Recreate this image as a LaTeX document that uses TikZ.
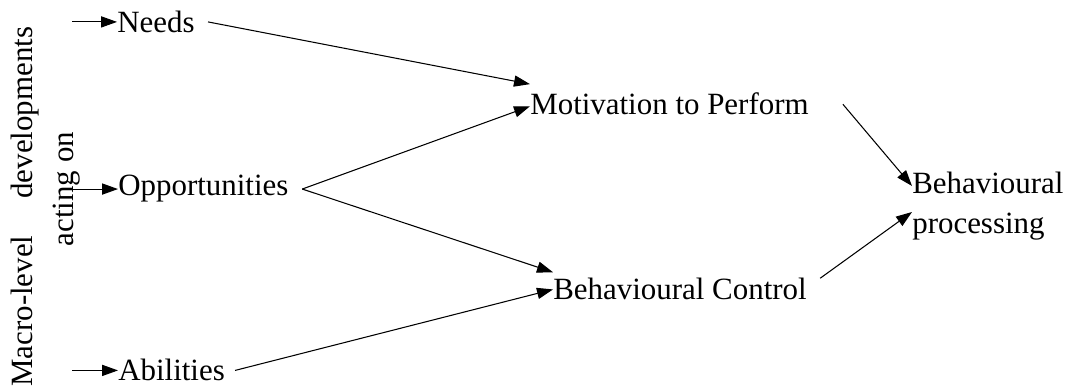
\documentclass[tikz,border=0pt]{standalone}
\usepackage{fontspec}
\setmainfont{Liberation Serif}
\usetikzlibrary{arrows.meta, positioning}

\begin{document}
\begin{tikzpicture}[
    factor/.style={inner sep=0pt, anchor=base west, font=\fontsize{22}{28}\selectfont},
    sidetext/.style={inner sep=0pt, anchor=base west, rotate=90, font=\fontsize{22}{26}\selectfont},
    link/.style={line width=0.75pt, -{Triangle[length=0.4cm, width=0.28cm]}}
]
    \useasboundingbox (0,0) rectangle (26.8,9.675);

    % Side caption
    \node (macro) [sidetext] at (0.8,0) {\makebox[9.0cm][s]{Macro-level developments}};
    \node (acting) [sidetext] at (1.825,3.51) {acting on};

    % Inputs
    \node (needs) [factor] at (2.925,8.8625) {Needs};
    \node (opp) [factor] at (2.95,4.775) {Opportunities};
    \node (abil) [factor] at (2.95,0.15) {Abilities};

    % Middle and outcome
    \node (motiv) [factor] at (13.25,6.8) {Motivation to Perform};
    \node (control) [factor] at (13.825,2.175) {Behavioural Control};
    \node (proc) [factor, anchor=north west, align=left] at (22.8,5.375) {Behavioural\\processing};

    % Free ends of the entry arrows
    \coordinate (needs-in) at ([xshift=-1.125cm]needs.west);
    \coordinate (opp-in) at ([xshift=-1.15cm]opp.west);
    \coordinate (abil-in) at ([xshift=-1.15cm]abil.west);

    % Entry arrows
    \draw [link] (needs-in) -- (needs.west);
    \draw [link] (opp-in) -- (opp.west);
    \draw [link] (abil-in) -- (abil.west);

    % Links
    \draw [link] ([xshift=0.33cm]needs.east) -- ([yshift=0.22cm]motiv.north west);
    \draw [link] ([xshift=0.34cm]opp.east) -- ([yshift=-0.05cm]motiv.west);
    \draw [link] ([xshift=0.34cm]opp.east) -- ([yshift=0.15cm]control.north west);
    \draw [link] ([xshift=0.25cm]abil.east) -- (control.west);
    \draw [link] ([xshift=0.85cm]motiv.east) -- ([yshift=-0.35cm]proc.north west);
    \draw [link] ([xshift=0.33cm]control.north east) -- ([yshift=-1.0cm]proc.north west);
\end{tikzpicture}
\end{document}
